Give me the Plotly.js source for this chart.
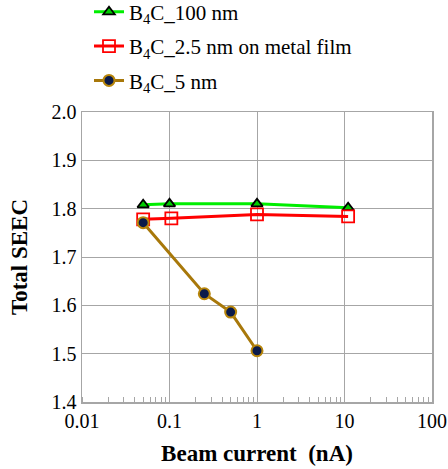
<!DOCTYPE html>
<html>
<head>
<meta charset="utf-8">
<script src="https://cdn.plot.ly/plotly-3.0.1.min.js"></script>
<style>html,body{margin:0;padding:0;background:#fff;}#chart{width:448px;height:469px;}</style>
</head>
<body>
<div id="chart"></div>
<script>
// Data
const seriesNames = ["B<sub>4</sub>C_100 nm", "B<sub>4</sub>C_2.5 nm on metal film", "B<sub>4</sub>C_5 nm"];
const x100nm = [0.05, 0.1, 1.0, 11];
const y100nm = [1.808, 1.810, 1.810, 1.802];
const x25nm = [0.05, 0.105, 1.0, 11];
const y25nm = [1.778, 1.780, 1.788, 1.784];
const x5nm = [0.05, 0.25, 0.5, 1.0];
const y5nm = [1.771, 1.624, 1.586, 1.506];
const xTickVals = [0.01, 0.1, 1, 10, 100];
const xTickText = ["0.01", "0.1", "1", "10", "100"];
const yTickVals = [1.4, 1.5, 1.6, 1.7, 1.8, 1.9, 2.0];
const yTickText = ["1.4", "1.5", "1.6", "1.7", "1.8", "1.9", "2.0"];

const serif = "Liberation Serif";

const traces = [
  {
    x: x100nm, y: y100nm, name: seriesNames[0], type: "scatter", mode: "lines+markers",
    legendgroup: "a",
    line: {color: "#00ee00", width: 3},
    marker: {symbol: "triangle-up", size: 10, color: "#00cc00", line: {color: "#000000", width: 1.8}}
  },
  {
    x: x25nm, y: y25nm, name: seriesNames[1], type: "scatter", mode: "lines+markers",
    legendgroup: "b",
    line: {color: "#ff0000", width: 3},
    marker: {symbol: "square-open", size: 12, color: "#ff0000", line: {color: "#ff0000", width: 1.8}}
  },
  {
    x: x5nm, y: y5nm, name: seriesNames[2], type: "scatter", mode: "lines+markers",
    legendgroup: "c",
    line: {color: "#a8780a", width: 3},
    marker: {symbol: "circle", size: 11, color: "#0a1a4a", line: {color: "#b8860b", width: 2}}
  }
];

const layout = {
  width: 448, height: 469,
  margin: {l: 82, r: 16, t: 112, b: 67, autoexpand: false},
  paper_bgcolor: "#ffffff", plot_bgcolor: "#ffffff",
  font: {family: serif, size: 19, color: "#000000"},
  showlegend: true,
  legend: {
    x: 0.02, y: 1.415, xanchor: "left", yanchor: "top",
    traceorder: "grouped", tracegroupgap: 4,
    font: {family: serif, size: 21, color: "#000"},
    bgcolor: "rgba(0,0,0,0)"
  },
  xaxis: {
    type: "log", range: [-2, 2],
    tickvals: xTickVals, ticktext: xTickText,
    tickfont: {family: serif, size: 20},
    ticks: "", showgrid: true, gridcolor: "#a6a6a6", gridwidth: 1,
    showline: true, linecolor: "#a6a6a6", linewidth: 1.5, mirror: true,
    zeroline: false,
    minor: {ticks: "inside", ticklen: 5, tickcolor: "#a6a6a6", tickwidth: 1, showgrid: false, dtick: "D1"},
    title: {text: "<b>Beam current  (nA)</b>", font: {family: serif, size: 23}, standoff: 14}
  },
  yaxis: {
    range: [1.4, 2.0],
    tickvals: yTickVals, ticktext: yTickText,
    tickfont: {family: serif, size: 20},
    ticks: "", showgrid: true, gridcolor: "#a6a6a6", gridwidth: 1,
    showline: true, linecolor: "#a6a6a6", linewidth: 1.5, mirror: true,
    zeroline: false,
    title: {text: "<b>Total SEEC</b>", font: {family: serif, size: 23}, standoff: 17}
  }
};

Plotly.newPlot("chart", traces, layout, {displayModeBar: false, staticPlot: true});
</script>
</body>
</html>
